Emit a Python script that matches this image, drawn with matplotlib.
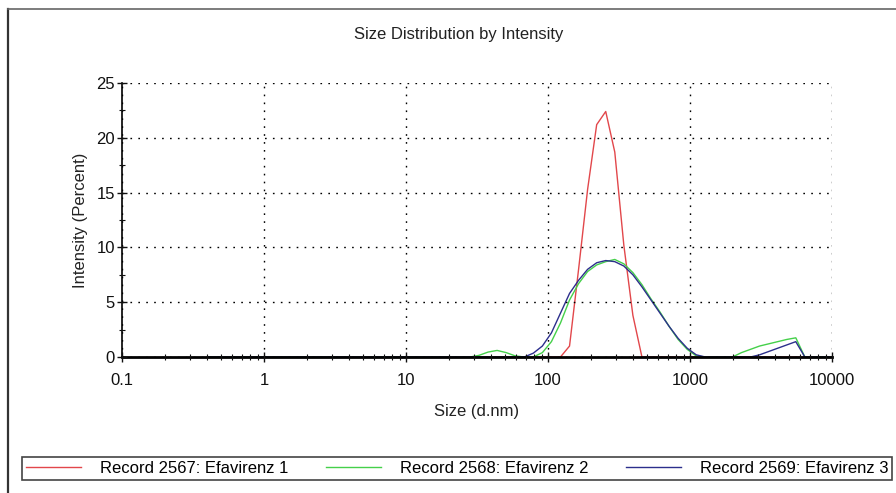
import matplotlib
matplotlib.use("Agg")
import matplotlib.pyplot as plt
from matplotlib.lines import Line2D
from matplotlib.ticker import FixedLocator, LogLocator, NullFormatter

plt.rcParams['font.family'] = ['Liberation Sans', 'DejaVu Sans']

# size classes (d.nm)
sizes = [0.4, 0.4632, 0.5365, 0.6213, 0.7195, 0.8332, 0.9649, 1.117, 1.294, 1.499,
         1.736, 2.010, 2.328, 2.696, 3.122, 3.615, 4.187, 4.849, 5.615, 6.503,
         7.531, 8.721, 10.10, 11.70, 13.54, 15.69, 18.17, 21.04, 24.36, 28.21,
         32.67, 37.84, 43.82, 50.75, 58.77, 68.06, 78.82, 91.28, 105.7, 122.4,
         141.8, 164.2, 190.1, 220.2, 255.0, 295.3, 342.0, 396.1, 458.7, 531.2,
         615.1, 712.4, 825.0, 955.4, 1106, 1281, 1484, 1718, 1990, 2305,
         2669, 3091, 3580, 4145, 4801, 5560, 6439, 7456, 8635, 10000]

rec_2567 = [0, 0, 0, 0, 0, 0, 0, 0, 0, 0,
            0, 0, 0, 0, 0, 0, 0, 0, 0, 0,
            0, 0, 0, 0, 0, 0, 0, 0, 0, 0,
            0, 0, 0, 0, 0, 0, 0, 0, 0, 0,
            1.0, 8.0, 15.3, 21.2, 22.4, 18.7, 10.2, 3.8, 0, 0,
            0, 0, 0, 0, 0, 0, 0, 0, 0, 0,
            0, 0, 0, 0, 0, 0, 0, 0, 0, 0]

rec_2568 = [0, 0, 0, 0, 0, 0, 0, 0, 0, 0,
            0, 0, 0, 0, 0, 0, 0, 0, 0, 0,
            0, 0, 0, 0, 0, 0, 0, 0, 0, 0,
            0.15, 0.45, 0.6, 0.4, 0.1, 0, 0, 0.4, 1.4, 3.1,
            5.2, 6.7, 7.8, 8.4, 8.7, 8.9, 8.5, 7.7, 6.6, 5.3,
            4.1, 2.8, 1.6, 0.7, 0.1, 0, 0, 0, 0, 0.4,
            0.7, 1.0, 1.2, 1.4, 1.6, 1.75, 0, 0, 0, 0]

rec_2569 = [0, 0, 0, 0, 0, 0, 0, 0, 0, 0,
            0, 0, 0, 0, 0, 0, 0, 0, 0, 0,
            0, 0, 0, 0, 0, 0, 0, 0, 0, 0,
            0, 0, 0, 0, 0, 0, 0.35, 1.0, 2.2, 4.0,
            5.8, 7.0, 8.0, 8.6, 8.8, 8.7, 8.3, 7.5, 6.4, 5.2,
            4.0, 2.8, 1.7, 0.8, 0.2, 0, 0, 0, 0, 0,
            0, 0.2, 0.5, 0.8, 1.1, 1.4, 0, 0, 0, 0]

labels = ['Record 2567: Efavirenz 1', 'Record 2568: Efavirenz 2', 'Record 2569: Efavirenz 3']
colors = ['#e2474b', '#45d04a', '#2c2f8c']
x_ticks = [0.1, 1, 10, 100, 1000, 10000]
x_ticklabels = ['0.1', '1', '10', '100', '1000', '10000']

W, H = 896, 493
fig = plt.figure(figsize=(W / 100, H / 100), dpi=100)
ax = fig.add_axes([122 / W, 1 - 357 / H, 710 / W, 274 / H])

handles = []
for ys, lab, col in zip([rec_2567, rec_2568, rec_2569], labels, colors):
    ln, = ax.plot(sizes, ys, color=col, lw=1.0, label=lab)
    handles.append(ln)

ax.set_xscale('log')
ax.set_xlim(0.1, 10000)
ax.set_ylim(0, 25)
ax.xaxis.set_major_locator(FixedLocator(x_ticks))
ax.set_xticklabels(x_ticklabels)
ax.xaxis.set_minor_locator(LogLocator(base=10, subs=range(2, 10), numticks=20))
ax.xaxis.set_minor_formatter(NullFormatter())
ax.set_yticks([0, 5, 10, 15, 20, 25])
ax.set_yticks([2.5, 7.5, 12.5, 17.5, 22.5], minor=True)

ax.tick_params(which='major', direction='inout', length=7, width=1, labelsize=12,
               colors='#111111')
ax.tick_params(axis='x', which='major', pad=8)
ax.tick_params(axis='y', which='major', pad=1.5)
ax.tick_params(which='minor', direction='inout', length=4, width=0.8, colors='#111111')

ax.grid(True, which='major', color='black', linestyle=(0, (1.2, 4.5)), linewidth=1.0)
for s in ['top', 'right']:
    ax.spines[s].set_visible(False)
ax.spines['left'].set_linewidth(1.2)
ax.spines['bottom'].set_linewidth(2.0)
ax.set_axisbelow(False)

ax.set_xlabel('Size (d.nm)', fontsize=12, color='#222222')
ax.xaxis.set_label_coords(0.5, -0.17)
ax.set_ylabel('Intensity (Percent)', fontsize=12, color='#222222')
ax.yaxis.set_label_coords(-0.048, 0.5)

fig.text(459 / W, 1 - 35 / H, 'Size Distribution by Intensity', ha='center', va='center',
         fontsize=12, color='#222222')

leg = fig.legend(handles=handles, labels=labels, ncol=3, loc='lower left',
                 bbox_to_anchor=(22 / W, 1 - 480 / H), bbox_transform=fig.transFigure,
                 fontsize=12, frameon=True, fancybox=False, framealpha=1,
                 edgecolor='#444444', borderpad=0.25, handlelength=3.3,
                 handletextpad=1.1, columnspacing=2.3, borderaxespad=0)
leg.get_frame().set_linewidth(1.2)

# outer frame (left and top edges)
fig.add_artist(Line2D([8 / W, 8 / W], [0, 1 - 9 / H], transform=fig.transFigure,
                      color='#333333', lw=1.6))
fig.add_artist(Line2D([8 / W, 1], [1 - 9 / H, 1 - 9 / H], transform=fig.transFigure,
                      color='#666666', lw=1.2))

fig.savefig('out.png', dpi=100)
